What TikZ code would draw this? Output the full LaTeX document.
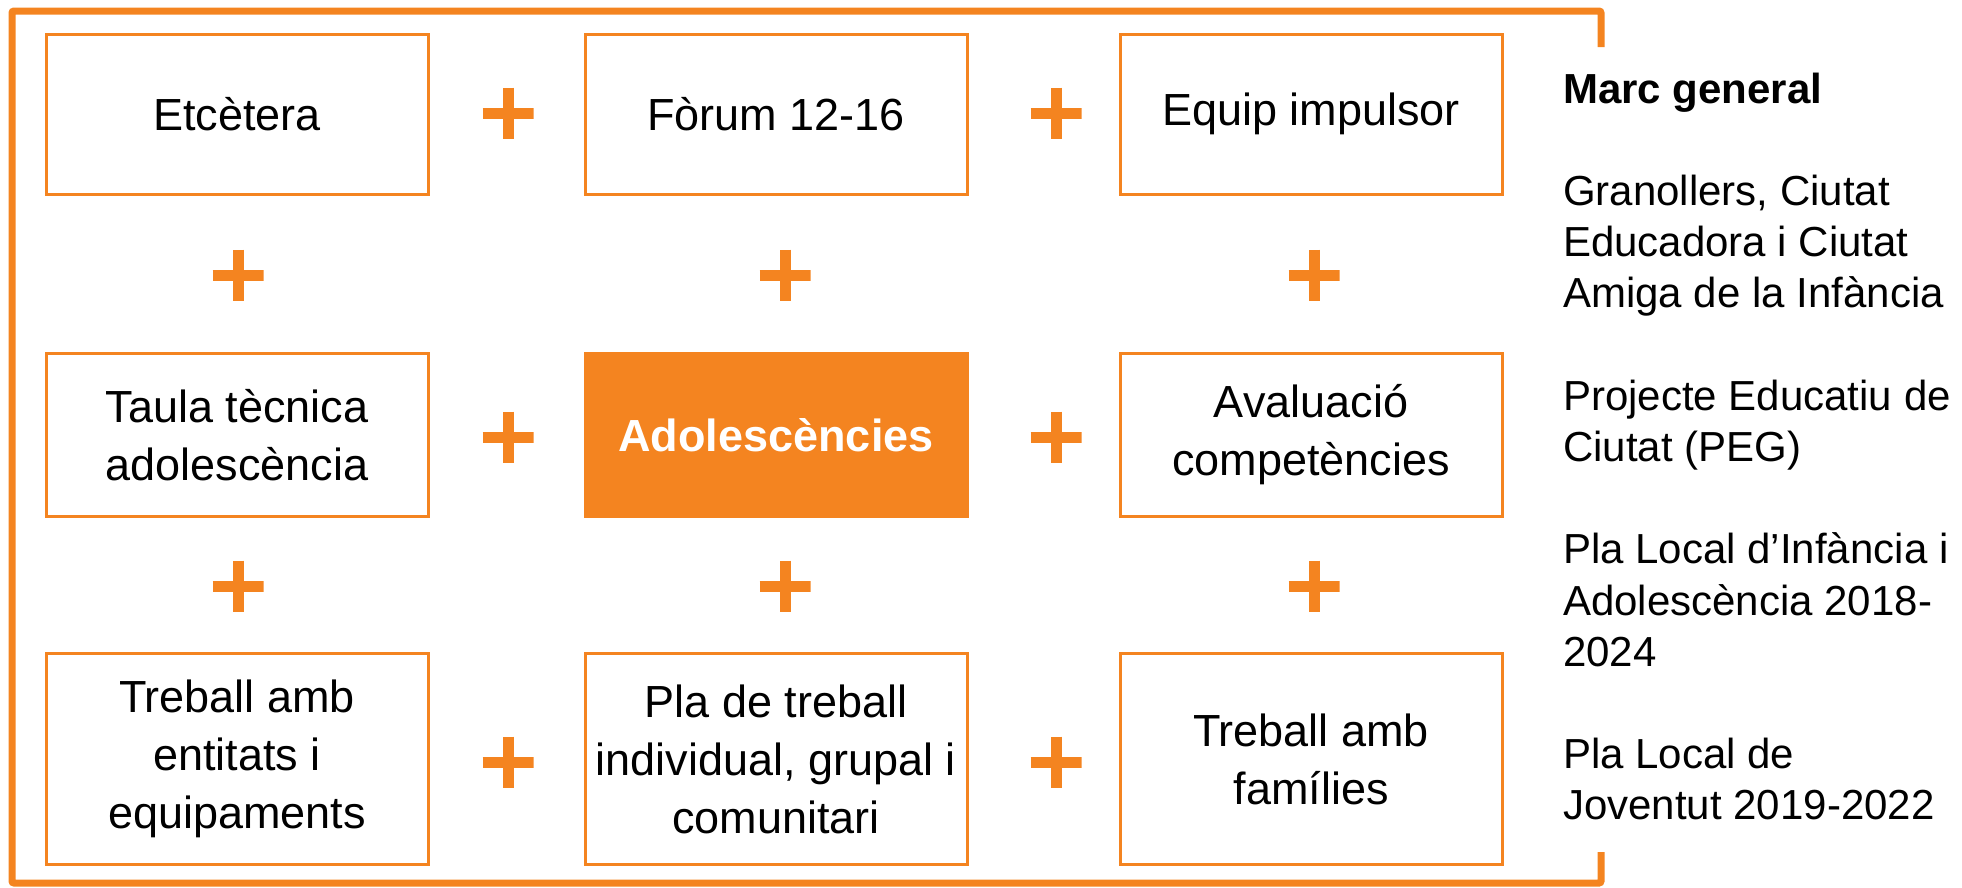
\documentclass[tikz,border=0pt]{standalone}
\usepackage{fontspec}
\setmainfont{Liberation Sans}
\usetikzlibrary{positioning}

\definecolor{granorange}{HTML}{F48420}

\begin{document}
\begin{tikzpicture}[x=1pt, y=-1pt,
		item/.style={draw=granorange, line width=3pt, minimum width=382pt, align=center, inner sep=0pt, font=\fontsize{45}{58}\selectfont},
		core/.style={item, fill=granorange, text=white, font=\fontsize{45}{58}\selectfont\bfseries},
		plus/.style={minimum size=51pt, inner sep=0pt, path picture={
			\draw[granorange, line width=11pt] (path picture bounding box.north) -- (path picture bounding box.south);
			\draw[granorange, line width=11pt] (path picture bounding box.west) -- (path picture bounding box.east);}},
		marc/.style={anchor=base west, inner sep=0pt, font=\fontsize{42}{51}\selectfont}]
		\useasboundingbox (0,0) rectangle (1962,887);

		% frame
		\draw[granorange, line width=7pt, rounded corners=2pt] (1601,47) -- (1601,11) -- (12,11) -- (12,883) -- (1601,883) -- (1601,852);

		\node[item, minimum height=160pt] (etc) at (237,114) {Etcètera};
		\node[item, minimum height=160pt] (forum) at (776,114) {Fòrum 12-16};
		\node[item, minimum height=160pt] (equip) at (1311,114) {Equip impulsor};
		\node[item, minimum height=163pt] (taula) at (237,435) {Taula tècnica\\adolescència};
		\node[core, minimum height=163pt] (adol) at (776,435) {Adolescències};
		\node[item, minimum height=163pt] (aval) at (1311,435) {Avaluació\\competències};
		\node[item, minimum height=211pt] (entitats) at (237,759) {Treball amb\\entitats i\\equipaments};
		\node[item, minimum height=211pt] (pla) at (776,759) {Pla de treball\\individual, grupal i\\comunitari};
		\node[item, minimum height=211pt] (families) at (1311,759) {Treball amb\\famílies};

		% plus signs
		\foreach \px/\py [count=\k] in {508/113, 1056/113, 508/437, 1056/437, 508/762, 1056/762,
				238/275, 785/275, 1314/275, 238/586, 785/586, 1314/586}
			\node[plus] (plus\k) at (\px,\py) {};

		% marc general
		\foreach \n/\txt in {0/{\textbf{Marc general}}, 2/{Granollers, Ciutat}, 3/{Educadora i Ciutat},
				4/{Amiga de la Infància}, 6/{Projecte Educatiu de}, 7/{Ciutat (PEG)},
				9/{Pla Local d’Infància i}, 10/{Adolescència 2018-}, 11/{2024},
				13/{Pla Local de}, 14/{Joventut 2019-2022}}
			\node[marc] (marc\n) at (1563,103+51.2*\n) {\txt};
	\end{tikzpicture}
\end{document}
